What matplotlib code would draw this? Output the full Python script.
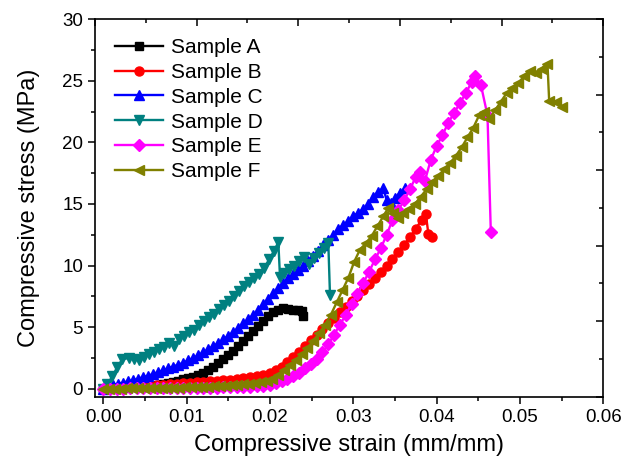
import matplotlib
matplotlib.use("Agg")
import matplotlib.pyplot as plt
from matplotlib.ticker import MultipleLocator

plt.rcParams['font.family'] = ['Liberation Sans', 'DejaVu Sans']

# Sample A
strain_a = [0.0, 0.0006, 0.0012, 0.0018, 0.0024, 0.003, 0.0036, 0.0042, 0.0048, 0.0054,
            0.006, 0.0066, 0.0072, 0.0078, 0.0084, 0.009, 0.0096, 0.0102, 0.0108, 0.0114,
            0.012, 0.0126, 0.0132, 0.0138, 0.0144, 0.015, 0.0156, 0.0162, 0.0168, 0.0174,
            0.018, 0.0186, 0.0192, 0.0198, 0.0204, 0.021, 0.0216, 0.0222, 0.0228, 0.0234,
            0.0238, 0.024]
stress_a = [0.0, 0.02, 0.04, 0.06, 0.08, 0.1, 0.12, 0.15, 0.18, 0.21,
            0.25, 0.3, 0.36, 0.45, 0.55, 0.65, 0.75, 0.85, 0.95, 1.1,
            1.3, 1.55, 1.8, 2.1, 2.4, 2.75, 3.1, 3.5, 3.9, 4.3,
            4.7, 5.1, 5.5, 5.9, 6.2, 6.4, 6.55, 6.45, 6.4, 6.35,
            6.3, 5.9]

# Sample B
strain_b = [0.0, 0.0008, 0.0016, 0.0024, 0.0032, 0.004, 0.0048, 0.0056, 0.0064, 0.0072,
            0.008, 0.0088, 0.0096, 0.0104, 0.0112, 0.012, 0.0128, 0.0136, 0.0144, 0.0152,
            0.016, 0.0168, 0.0176, 0.0184, 0.0192, 0.02,
            0.0207, 0.0214, 0.0221, 0.0228, 0.0235, 0.0242, 0.0249, 0.0256, 0.0263, 0.027,
            0.0277, 0.0284, 0.0291, 0.0298, 0.0305, 0.0312, 0.0319, 0.0326, 0.0333, 0.034,
            0.0347, 0.0354, 0.0361, 0.0368, 0.0375, 0.0382,
            0.0387, 0.039, 0.0395]
stress_b = [0.0, 0.03, 0.06, 0.09, 0.12, 0.16, 0.2, 0.24, 0.28, 0.32,
            0.36, 0.4, 0.44, 0.48, 0.52, 0.56, 0.6, 0.64, 0.68, 0.73,
            0.78, 0.84, 0.92, 1.0, 1.1, 1.25,
            1.5, 1.8, 2.2, 2.6, 3.0, 3.5, 3.95, 4.4, 4.85, 5.3,
            5.75, 6.2, 6.65, 7.1, 7.55, 8.0, 8.5, 9.0, 9.5, 10.0,
            10.5, 11.1, 11.7, 12.3, 13.0, 13.7,
            14.2, 12.6, 12.3]

# Sample C
strain_c = [0.0, 0.0006, 0.0012, 0.0018, 0.0024, 0.003, 0.0036, 0.0042, 0.0048, 0.0054,
            0.006, 0.0066, 0.0072, 0.0078, 0.0084, 0.009, 0.0096, 0.0102, 0.0108, 0.0114,
            0.012, 0.0126, 0.0132, 0.0138, 0.0144, 0.015, 0.0156, 0.0162, 0.0168, 0.0174,
            0.018, 0.0186, 0.0192, 0.0198, 0.0204, 0.021, 0.0216, 0.0222, 0.0228, 0.0234,
            0.024, 0.0246, 0.0252, 0.0258, 0.0264, 0.027, 0.0276, 0.0282, 0.0288, 0.0294,
            0.03, 0.0306, 0.0312, 0.0318, 0.0324, 0.033, 0.0336,
            0.034, 0.0345, 0.035, 0.0356, 0.0362]
stress_c = [0.0, 0.2, 0.3, 0.4, 0.5, 0.6, 0.7, 0.8, 0.95, 1.05,
            1.2, 1.35, 1.5, 1.65, 1.8, 1.95, 2.1, 2.3, 2.5, 2.7,
            2.95, 3.2, 3.45, 3.7, 4.0, 4.3, 4.6, 4.95, 5.3, 5.65,
            6.0, 6.4, 6.85, 7.3, 7.75, 8.2, 8.6, 9.0, 9.3, 9.6,
            10.0, 10.4, 10.8, 11.2, 11.7, 12.1, 12.5, 13.0, 13.3, 13.6,
            14.0, 14.3, 14.6, 15.0, 15.6, 16.0, 16.3,
            15.3, 15.1, 15.5, 15.9, 16.3]

# Sample D
strain_d = [0.0, 0.0005, 0.0011, 0.0017, 0.0023, 0.0031, 0.0037, 0.0043, 0.0049, 0.0055,
            0.0061, 0.0067, 0.0073, 0.0079, 0.0085, 0.0091, 0.0097, 0.0103, 0.0109, 0.0115,
            0.0121, 0.0127, 0.0133, 0.0139, 0.0145, 0.0151, 0.0157, 0.0163, 0.0169, 0.0175,
            0.0181, 0.0187, 0.0193, 0.0199, 0.0205, 0.021, 0.0212, 0.0217, 0.0223, 0.0229,
            0.0235, 0.0241, 0.0247, 0.0253, 0.0259, 0.0265, 0.027, 0.0272]
stress_d = [0.0, 0.4, 1.0, 1.8, 2.4, 2.5, 2.4, 2.3, 2.6, 2.8,
            3.0, 3.2, 3.4, 3.7, 3.5, 4.0, 4.3, 4.6, 4.8, 5.2,
            5.5, 5.8, 6.1, 6.5, 6.8, 7.1, 7.5, 7.9, 8.3, 8.7,
            9.0, 9.3, 9.8, 10.5, 11.2, 11.9, 9.1, 9.4, 9.7, 10.0,
            10.4, 10.7, 10.1, 10.6, 11.0, 11.4, 11.8, 7.6]

# Sample E
strain_e = [0.0, 0.0008, 0.0016, 0.0024, 0.0032, 0.004, 0.0048, 0.0056, 0.0064, 0.0072,
            0.008, 0.0088, 0.0096, 0.0104, 0.0112, 0.012, 0.0128, 0.0136, 0.0144, 0.0152,
            0.016, 0.0168, 0.0176, 0.0184, 0.0192, 0.02,
            0.0207, 0.0214, 0.0221, 0.0228, 0.0235, 0.0242, 0.0249, 0.0256, 0.0263, 0.027,
            0.0277, 0.0284, 0.0291, 0.0298, 0.0305, 0.0312, 0.0319, 0.0326, 0.0333, 0.034,
            0.0347, 0.0354, 0.0361, 0.0368, 0.0375,
            0.038, 0.0386, 0.0393, 0.04, 0.0407, 0.0414, 0.0421, 0.0428, 0.0435, 0.0442,
            0.0446, 0.0453, 0.0461, 0.0465]
stress_e = [0.0, 0.0, 0.01, 0.01, 0.02, 0.02, 0.03, 0.03, 0.04, 0.04,
            0.05, 0.05, 0.06, 0.06, 0.07, 0.07, 0.08, 0.09, 0.1, 0.11,
            0.12, 0.14, 0.16, 0.2, 0.25, 0.32,
            0.45, 0.6, 0.75, 1.0, 1.3, 1.65, 2.0, 2.45, 2.95, 3.6,
            4.4, 5.2, 6.0, 6.9, 7.7, 8.6, 9.5, 10.5, 11.4, 12.5,
            13.7, 14.5, 15.3, 16.2, 17.2,
            17.6, 16.9, 18.6, 19.7, 20.6, 21.6, 22.4, 23.2, 24.0, 24.9,
            25.4, 24.7, 22.2, 12.7]

# Sample F
strain_f = [0.0, 0.0007, 0.0014, 0.0021, 0.0028, 0.0035, 0.0042, 0.0049, 0.0056, 0.0063,
            0.007, 0.0077, 0.0084, 0.0091, 0.0098, 0.0105, 0.0112, 0.0119, 0.0126, 0.0133,
            0.014, 0.0147, 0.0154, 0.0161, 0.0168, 0.0175, 0.0182, 0.0189, 0.0196,
            0.0203, 0.021, 0.0217, 0.0224, 0.0231, 0.0238, 0.0245, 0.0252, 0.0259, 0.0266,
            0.0273, 0.028, 0.0287, 0.0294, 0.0301, 0.0308, 0.0315, 0.0322, 0.0329, 0.0336,
            0.0342, 0.0348, 0.0354, 0.036,
            0.0367, 0.0374, 0.0381, 0.0388, 0.0395, 0.0402, 0.0409, 0.0416, 0.0423, 0.043,
            0.0437, 0.0444, 0.0451,
            0.0457, 0.0463, 0.047, 0.0477, 0.0484, 0.0491, 0.0498, 0.0505, 0.0512, 0.0519,
            0.0526, 0.0533,
            0.0535, 0.0543, 0.0551]
stress_f = [0.0, 0.0, 0.01, 0.01, 0.02, 0.02, 0.03, 0.03, 0.04, 0.05,
            0.06, 0.07, 0.08, 0.09, 0.1, 0.11, 0.12, 0.14, 0.16, 0.18,
            0.2, 0.23, 0.27, 0.31, 0.36, 0.41, 0.47, 0.54, 0.62,
            0.8, 1.1, 1.5, 1.9, 2.3, 2.8, 3.3, 3.9, 4.5, 5.2,
            6.0, 7.0, 8.0, 9.0, 10.3, 11.3, 11.8, 12.4, 13.2, 14.0,
            14.7, 14.3, 13.9, 14.3,
            14.6, 15.0, 15.6, 16.2, 16.8, 17.3, 17.8, 18.3, 18.9, 19.6,
            20.4, 21.2, 22.2,
            22.5, 21.9, 22.6, 23.3, 24.0, 24.4, 24.8, 25.4, 25.8, 25.6,
            26.0, 26.4,
            23.4, 23.3, 22.9]

labels = ['Sample A', 'Sample B', 'Sample C', 'Sample D', 'Sample E', 'Sample F']
colors = ['black', '#FF0000', '#0000FF', '#008080', '#FF00FF', '#808000']
markers = ['s', 'o', '^', 'v', 'D', '<']
sizes = [5.5, 6.5, 7, 7, 6, 7]
strains = [strain_a, strain_b, strain_c, strain_d, strain_e, strain_f]
stresses = [stress_a, stress_b, stress_c, stress_d, stress_e, stress_f]

fig = plt.figure(figsize=(6.25, 4.66), dpi=100)
ax = fig.add_axes([0.152, 0.1487, 0.8133, 0.81])

for x, y, lab, c, m, s in zip(strains, stresses, labels, colors, markers, sizes):
    ax.plot(x, y, color=c, marker=m, markersize=s, linewidth=1.7,
            markeredgecolor=c, label=lab)

ax.set_xlim(-0.001, 0.06)
ax.set_ylim(-0.65, 30)
ax.xaxis.set_major_locator(MultipleLocator(0.01))
ax.xaxis.set_minor_locator(MultipleLocator(0.005))
ax.yaxis.set_major_locator(MultipleLocator(5))
ax.yaxis.set_minor_locator(MultipleLocator(2.5))
ax.set_xticks([0, 0.01, 0.02, 0.03, 0.04, 0.05, 0.06])
ax.set_xticklabels(['0.00', '0.01', '0.02', '0.03', '0.04', '0.05', '0.06'])
ax.tick_params(which='both', direction='out', top=False, right=False,
               labelsize=13.5, width=1.1)
ax.tick_params(which='major', length=5)
ax.tick_params(which='minor', length=3)
for sp in ax.spines.values():
    sp.set_linewidth(1.2)

ax.set_xlabel('Compressive strain (mm/mm)', fontsize=17, labelpad=6)
ax.set_ylabel('Compressive stress (MPa)', fontsize=17, labelpad=16)

# top and right axes with inward ticks
ax2 = fig.add_axes(ax.get_position(), frameon=False)
ax2.set_xlim(0, 1)
ax2.set_ylim(0, 1)
ax2.xaxis.set_major_locator(MultipleLocator(0.2))
ax2.xaxis.set_minor_locator(MultipleLocator(0.1))
ax2.yaxis.set_major_locator(MultipleLocator(0.2))
ax2.yaxis.set_minor_locator(MultipleLocator(0.1))
ax2.tick_params(which='both', direction='in', bottom=False, left=False,
                top=True, right=True, labelbottom=False, labelleft=False,
                width=1.1)
ax2.tick_params(which='major', length=5)
ax2.tick_params(which='minor', length=3)
ax2.patch.set_visible(False)

ax.legend(loc='upper left', bbox_to_anchor=(0.04, 0.95), frameon=False,
          fontsize=15, handlelength=2.3, handletextpad=0.35, labelspacing=0.28,
          borderpad=0, borderaxespad=0)

fig.savefig('out.png', dpi=100)
